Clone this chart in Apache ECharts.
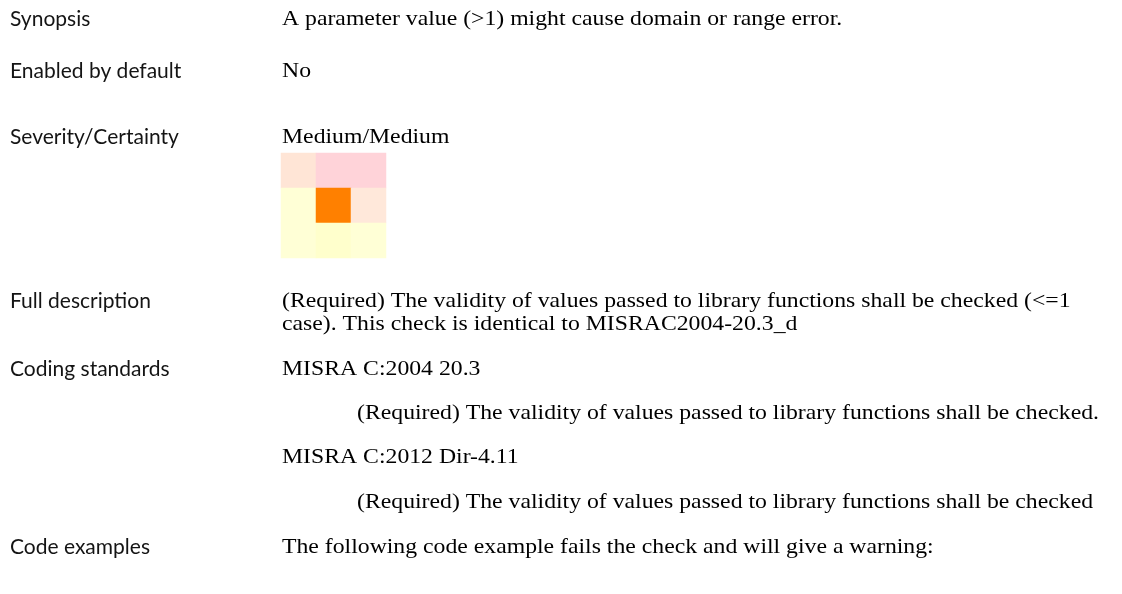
<!DOCTYPE html>
<html>
<head>
<meta charset="utf-8">
<script src="https://cdn.jsdelivr.net/npm/echarts@6/dist/echarts.min.js"></script>
<style>
html,body{margin:0;padding:0;background:#fff;}
#chart{width:1122px;height:594px;}
</style>
</head>
<body>
<div id="chart"></div>
<script>
// Matrix categories
var severityCats = ['Low', 'Medium', 'High'];
var certaintyCats = ['High', 'Medium', 'Low'];   // top to bottom
// Tint class of each cell, rows top to bottom
var cellClasses = [
  [1, 2, 2],
  [0, 3, 5],
  [0, 4, 0]
];
var classColors = ['#FFFFD6', '#FFE5D6', '#FFD3D9', '#FF8000', '#FFFFCC', '#FFE8DA'];

// Document text
var labels = ['Synopsis', 'Enabled by default', 'Severity/Certainty', 'Full description', 'Coding standards', 'Code examples'];
var labelRows = [19, 71, 137, 301, 369, 547];
var bodyLines = [
  {t: 'A parameter value (>1) might cause domain or range error.', y: 19, indent: 0},
  {t: 'No', y: 71, indent: 0},
  {t: 'Medium/Medium', y: 137, indent: 0},
  {t: '(Required) The validity of values passed to library functions shall be checked (<=1', y: 301, indent: 0},
  {t: 'case). This check is identical to MISRAC2004-20.3_d', y: 324, indent: 0},
  {t: 'MISRA C:2004 20.3', y: 369, indent: 0},
  {t: '(Required) The validity of values passed to library functions shall be checked.', y: 413, indent: 1},
  {t: 'MISRA C:2012 Dir-4.11', y: 457, indent: 0},
  {t: '(Required) The validity of values passed to library functions shall be checked', y: 502, indent: 1},
  {t: 'The following code example fails the check and will give a warning:', y: 547, indent: 0}
];

var data = [];
cellClasses.forEach(function (row, r) {
  row.forEach(function (v, c) { data.push([c, r, v]); });
});

var graphics = [];
labels.forEach(function (l, i) {
  graphics.push({
    type: 'text', x: 10, y: labelRows[i],
    style: {text: l, font: '21px Lato, "Open Sans", sans-serif', fill: '#141414', align: 'left', verticalAlign: 'middle'}
  });
});
bodyLines.forEach(function (b) {
  graphics.push({
    type: 'text', x: b.indent ? 357 : 282, y: b.y, scaleX: 1.13,
    style: {text: b.t, font: '21px "Liberation Serif", "Times New Roman", serif', fill: '#000', align: 'left', verticalAlign: 'middle'}
  });
});

var chart = echarts.init(document.getElementById('chart'), null, {renderer: 'canvas'});
chart.setOption({
  animation: false,
  backgroundColor: '#fff',
  grid: {left: 281, top: 153, width: 105, height: 105, containLabel: false},
  xAxis: {type: 'category', data: severityCats, show: false},
  yAxis: {type: 'category', data: certaintyCats, inverse: true, show: false},
  visualMap: {
    show: false, type: 'piecewise', dimension: 2,
    pieces: classColors.map(function (c, i) { return {value: i, color: c}; })
  },
  series: [{
    type: 'heatmap', data: data,
    itemStyle: {borderWidth: 0},
    emphasis: {disabled: true}
  }],
  graphic: graphics
});
</script>
</body>
</html>
